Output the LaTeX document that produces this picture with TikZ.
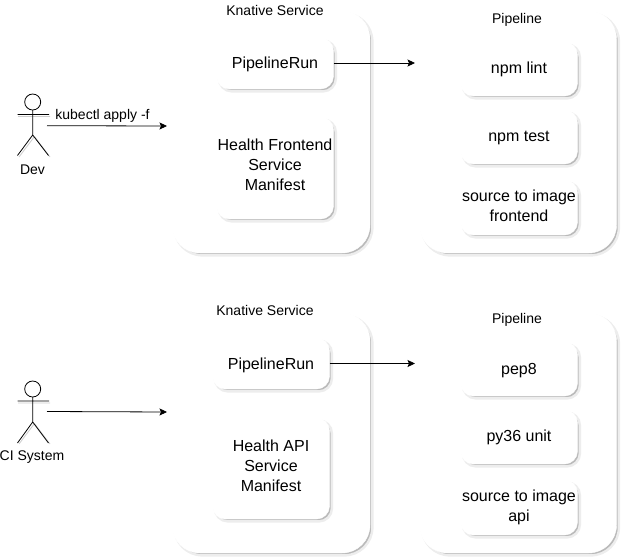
\documentclass[tikz,border=0pt]{standalone}
\usepackage{fontspec}
\setmainfont{Liberation Sans}
\usetikzlibrary{shadows,arrows.meta}
\newcommand{\liftlines}[2]{\begin{tabular}{@{}c@{}}#2\\[#1]\end{tabular}}
\newcommand{\tallline}[2]{\rule{0pt}{#1}#2}
\tikzset{
  x=1pt,y=-1pt,
  shbox/.style={fill=white,draw=white,line width=0.4pt,align=center,inner sep=0pt,
    drop shadow={shadow xshift=2.4pt,shadow yshift=-2.4pt,fill=black!27,draw=black!7,line width=2.4pt,opacity=1}},
  outerbox/.style={shbox,rounded corners=28pt},
  innerbox/.style={shbox,rounded corners=13pt,font=\fontsize{16}{20}\selectfont},
  lab/.style={font=\fontsize{14}{16}\selectfont,inner sep=0pt,align=center},
  actorline/.style={draw=black,line width=0.8pt},
  actorshadow/.style={draw=black!20,line width=0.8pt},
  conn/.style={draw=black,line width=0.8pt,-{Stealth[length=7.5pt,width=7pt,inset=1.5pt]}},
}
\begin{document}
\begin{tikzpicture}
\useasboundingbox (0,0) rectangle (622,557);
% top row containers
\node[outerbox,minimum width=198pt,minimum height=242pt] (ks1) at (271,132) {};
\node[outerbox,minimum width=197pt,minimum height=242pt] (pl1) at (518,132) {};
\node[innerbox,minimum width=117pt,minimum height=51pt] (pr1) at (275,63.5) {\tallline{13.5pt}{PipelineRun}};
\node[innerbox,minimum width=117pt,minimum height=102pt] (hf) at (275,168) {\liftlines{4pt}{Health Frontend\\Service\\Manifest}};
\node[innerbox,minimum width=117pt,minimum height=54pt] (s11) at (519,69) {npm lint};
\node[innerbox,minimum width=117pt,minimum height=54pt] (s12) at (519,137) {\tallline{13pt}{npm test}};
\node[innerbox,minimum width=117pt,minimum height=55pt] (s13) at (519,207.5) {\liftlines{0pt}{source to image\\frontend}};
\node[lab] (t1) at (275,10) {Knative Service};
\node[lab] (t2) at (517,20) {Pipeline};
% bottom row containers
\node[outerbox,minimum width=198pt,minimum height=240pt] (ks2) at (271,433) {};
\node[outerbox,minimum width=197pt,minimum height=240pt] (pl2) at (518,433) {};
\node[innerbox,minimum width=117pt,minimum height=51pt] (pr2) at (271,363.5) {\tallline{15.5pt}{PipelineRun}};
\node[innerbox,minimum width=117pt,minimum height=101pt] (ha) at (271,468.5) {\liftlines{2pt}{Health API\\Service\\Manifest}};
\node[innerbox,minimum width=117pt,minimum height=54pt] (s21) at (519,369) {\tallline{13.5pt}{pep8}};
\node[innerbox,minimum width=117pt,minimum height=54pt] (s22) at (519,437) {py36 unit};
\node[innerbox,minimum width=117pt,minimum height=55pt] (s23) at (519,507.5) {\liftlines{0pt}{source to image\\api}};
\node[lab] (t3) at (265,310) {Knative Service};
\node[lab] (t4) at (517,320) {Pipeline};
% Dev actor
\draw[actorshadow] (34.5,136.5) -- (19,157) (34.5,136.5) -- (50,157) (18,116.5) -- (50,116.5);
\draw[actorline,fill=white] (32.7,102) circle (8);
\draw[actorline] (32.7,110) -- (32.7,135) (17.5,114.5) -- (49,114.5)
  (32.7,135) -- (17.5,155.5) (32.7,135) -- (48.5,155.5);
\node[lab] (dev) at (32.5,170) {Dev};
\coordinate (a1) at (47,125.7);
\coordinate (a1e) at (167,126);
\draw[conn] (a1) -- (a1e);
\node[lab] (k) at (102.5,115.5) {kubectl apply -f};
% CI actor
\draw[actorshadow] (34.5,423.5) -- (19,444) (34.5,423.5) -- (50,444) (18,403) -- (50,403);
\draw[actorline,fill=white] (32.7,389) circle (8);
\draw[actorline] (32.7,397) -- (32.7,422) (17.5,401) -- (49,401)
  (32.7,422) -- (17.5,443) (32.7,422) -- (48.5,443);
\node[lab] (ci) at (32,457.5) {CI System};
\coordinate (a2) at (47,411.5);
\coordinate (a2e) at (167,412);
\draw[conn] (a2) -- (a2e);
% pipeline connectors
\coordinate (e1) at (415,63);
\coordinate (e2) at (415,363.5);
\draw[conn] (pr1.east |- e1) -- (e1);
\draw[conn] (pr2.east |- e2) -- (e2);
\end{tikzpicture}
\end{document}
